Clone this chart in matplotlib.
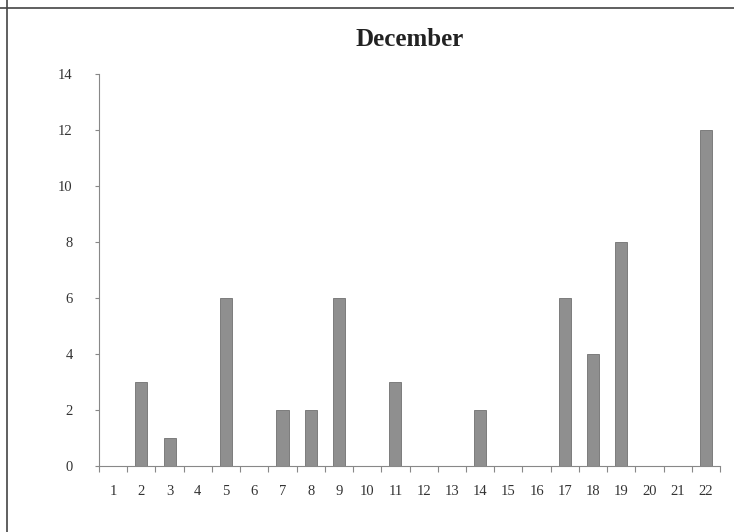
import matplotlib.pyplot as plt
from matplotlib.lines import Line2D

plt.rcParams['font.family'] = ['Liberation Serif', 'DejaVu Serif']

# 12월 일별 값
days = [str(d) for d in range(1, 23)]
values = [0, 3, 1, 0, 6, 0, 2, 2, 6, 0, 3, 0, 0, 2, 0, 0, 6, 4, 8, 0, 0, 12]
y_ticks = [0, 2, 4, 6, 8, 10, 12, 14]


def create_and_plot():
    fig = plt.figure(figsize=(7.34, 5.32), dpi=100)
    ax = fig.add_axes([0.1349, 0.1241, 0.8461, 0.7369])

    x = list(range(len(days)))
    ax.bar(x, values, width=0.43, color='#8f8f8f', edgecolor='#707070', linewidth=0.6)

    ax.set_xlim(-0.5, len(days) - 0.5)
    ax.set_ylim(0, 14)
    ax.set_yticks(y_ticks)
    ax.set_yticklabels([str(v) for v in y_ticks], fontsize=10.5, color='#333333')

    # 카테고리 경계에 눈금, 라벨은 가운데
    ax.set_xticks([i - 0.5 for i in range(len(days) + 1)])
    ax.set_xticklabels([])
    ax.set_xticks(x, minor=True)
    ax.set_xticklabels(days, minor=True, fontsize=10.5, color='#333333')
    ax.tick_params(axis='x', which='minor', length=0, pad=14)
    ax.tick_params(axis='x', which='major', length=4, color='#888888', direction='out')
    ax.tick_params(axis='y', length=3, color='#888888', direction='out', pad=16)

    for side in ['top', 'right']:
        ax.spines[side].set_visible(False)
    for side in ['left', 'bottom']:
        ax.spines[side].set_color('#888888')
        ax.spines[side].set_linewidth(0.8)

    fig.text(0.558, 0.925, 'December', ha='center', va='center',
             fontsize=18, fontweight='bold', color='#222222')

    # 스캔 테두리 선
    fig.add_artist(Line2D([0, 1], [1 - 8 / 532, 1 - 8 / 532], color='#444444', linewidth=1.2))
    fig.add_artist(Line2D([7 / 734, 7 / 734], [0, 1], color='#444444', linewidth=1.2))

    fig.savefig('out.png', dpi=100)


if __name__ == "__main__":
    create_and_plot()
